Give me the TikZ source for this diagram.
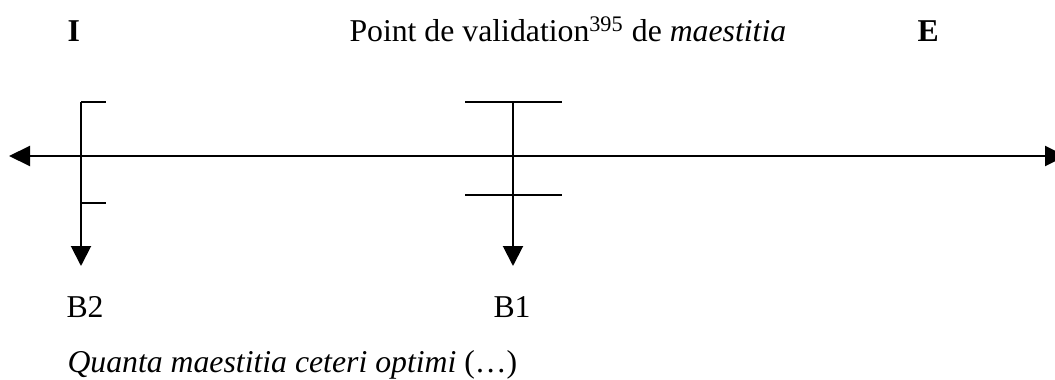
\documentclass[tikz,border=0pt]{standalone}
\usepackage{fontspec}
\setmainfont{Liberation Serif}
\usepackage{tikz}
\usetikzlibrary{arrows.meta, positioning}
\tikzset{
  lbl/.style={inner sep=0pt, anchor=base west, font=\fontsize{12.7}{15}\selectfont},
  axis/.style={line width=0.8pt, {Triangle[length=8.4pt, width=8pt]}-{Triangle[length=8.4pt, width=8pt]}},
  branch/.style={line width=0.8pt, -{Triangle[length=8pt, width=8pt]}},
  crossbar/.style={line width=0.8pt},
}

\begin{document}
\begin{tikzpicture}[x=0.4pt, y=-0.4pt]
    \useasboundingbox (0,0) rectangle (1055,380);

    % heading
    \node[lbl] (init) at (67,42) {\bfseries I};
    \node[lbl] (pv) at (349,42) {Point de validation\textsuperscript{395} de \textit{maestitia}};
    \node[lbl] (fin) at (917,42) {\bfseries E};

    % axis
    \coordinate (axL) at (9,156);
    \coordinate (axR) at (1066,156);
    \draw[axis] (axL) -- (axR);

    % B2 branch
    \coordinate (b2top) at (81,102);
    \coordinate (b2tip) at (81,266);
    \coordinate (b2hi) at (106,102);
    \coordinate (b2mid) at (81,203);
    \coordinate (b2lo) at (106,203);
    \draw[branch] (b2top) -- (b2tip);
    \draw[crossbar] (b2top) -- (b2hi);
    \draw[crossbar] (b2mid) -- (b2lo);

    % B1 branch
    \coordinate (b1top) at (513,102);
    \coordinate (b1tip) at (513,266);
    \coordinate (b1hiL) at (465,102);
    \coordinate (b1hiR) at (562,102);
    \coordinate (b1loL) at (465,195);
    \coordinate (b1loR) at (562,195);
    \draw[branch] (b1top) -- (b1tip);
    \draw[crossbar] (b1hiL) -- (b1hiR);
    \draw[crossbar] (b1loL) -- (b1loR);

    % labels
    \node[lbl] (bt) at (66,317) {B2};
    \node[lbl] (bo) at (493,317) {B1};
    \node[lbl] (quote) at (67,372) {\textit{Quanta maestitia ceteri optimi} (\ldots)};
\end{tikzpicture}
\end{document}
